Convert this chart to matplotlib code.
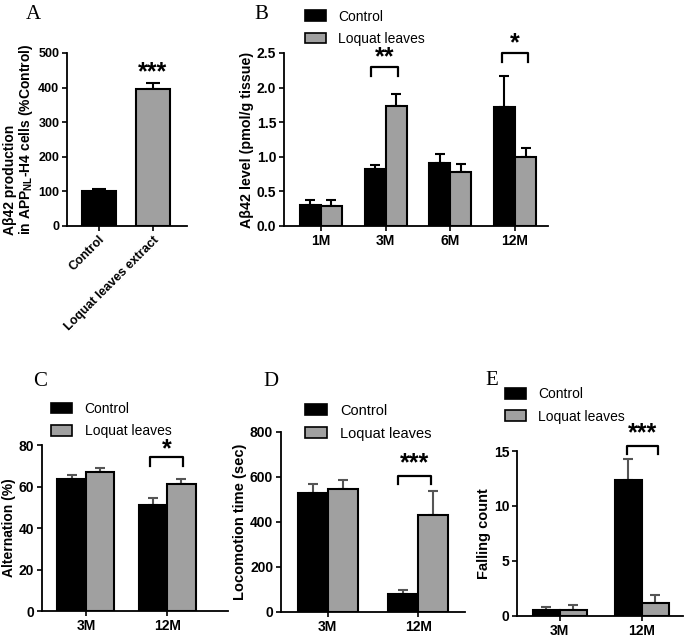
import numpy as np
import matplotlib
matplotlib.use('Agg')
import matplotlib.pyplot as plt
from matplotlib.patches import Patch

plt.rcParams['font.family'] = ['Liberation Sans', 'DejaVu Sans']
plt.rcParams['mathtext.fontset'] = 'custom'
plt.rcParams['mathtext.rm'] = 'Liberation Sans'
plt.rcParams['mathtext.bf'] = 'Liberation Sans:bold'

GRAY = '#a0a0a0'

# ---- data ----
a_labels = ['Control', 'Loquat leaves extract']
a_vals = [100, 397]
a_err = [8, 15]

b_ages = ['1M', '3M', '6M', '12M']
b_ctrl = [0.30, 0.82, 0.91, 1.72]
b_ctrl_err = [0.08, 0.06, 0.13, 0.45]
b_loq = [0.29, 1.74, 0.78, 1.00]
b_loq_err = [0.08, 0.17, 0.11, 0.13]

ages = ['3M', '12M']
c_ctrl = [63.5, 51.0]
c_ctrl_err = [2.0, 3.5]
c_loq = [67.0, 61.0]
c_loq_err = [2.0, 2.5]

d_ctrl = [530, 80]
d_ctrl_err = [40, 17]
d_loq = [548, 430]
d_loq_err = [37, 108]

e_ctrl = [0.55, 12.4]
e_ctrl_err = [0.3, 1.9]
e_loq = [0.55, 1.2]
e_loq_err = [0.45, 0.7]


def style(ax, fs=10):
   for s in ['top', 'right']:
      ax.spines[s].set_visible(False)
   for s in ['left', 'bottom']:
      ax.spines[s].set_linewidth(1.3)
   ax.tick_params(width=1.2, length=3.5, labelsize=fs, pad=2)
   for t in ax.get_xticklabels() + ax.get_yticklabels():
      t.set_fontweight('bold')


def grouped(ax, cats, ctrl, cerr, loq, lerr, w, ecol='k'):
   x = np.arange(len(cats))
   ax.bar(x - w/2, ctrl, w, color='k', edgecolor='k', lw=1.5, zorder=3)
   ax.bar(x + w/2, loq, w, color=GRAY, edgecolor='k', lw=1.5, zorder=3)
   ax.errorbar(x - w/2, ctrl, yerr=[np.zeros(len(x)), cerr], fmt='none',
               ecolor=ecol, elinewidth=1.5, capsize=3.5, capthick=1.5, zorder=2)
   ax.errorbar(x + w/2, loq, yerr=[np.zeros(len(x)), lerr], fmt='none',
               ecolor=ecol, elinewidth=1.5, capsize=3.5, capthick=1.5, zorder=2)
   ax.set_xticks(x)
   ax.set_xticklabels(cats)


def bracket(ax, x0, x1, ytop, ylow, text, ty, fs=18):
   ax.plot([x0, x0, x1, x1], [ylow, ytop, ytop, ylow], color='k', lw=1.6,
           clip_on=False, zorder=4)
   ax.text((x0 + x1)/2, ty, text, ha='center', va='center', fontsize=fs,
           fontweight='bold', clip_on=False)


def legend(fig, x, y, fs=10):
   h = [Patch(facecolor='k', edgecolor='k', lw=1.2),
        Patch(facecolor=GRAY, edgecolor='k', lw=1.2)]
   fig.legend(h, ['Control', 'Loquat leaves'], loc='upper left',
              bbox_to_anchor=(x, y), frameon=False, fontsize=fs,
              handlelength=1.5, handleheight=0.8, labelspacing=0.6,
              handletextpad=0.9, borderaxespad=0, borderpad=0)


fig = plt.figure(figsize=(6.85, 6.38), dpi=100)

# ---- A ----
ax = fig.add_axes([0.0978, 0.6458, 0.1752, 0.2712])
xa = np.arange(2)
ax.bar(xa, a_vals, 0.63, color=['k', GRAY], edgecolor='k', lw=1.5, zorder=3)
ax.errorbar(xa, a_vals, yerr=[[0, 0], a_err], fmt='none', ecolor='k',
            elinewidth=1.5, capsize=5, capthick=1.5, zorder=2)
ax.set_xlim(-0.59, 1.63)
ax.set_ylim(0, 500)
ax.set_yticks([0, 100, 200, 300, 400, 500])
ax.set_xticks(xa)
ax.set_xticklabels(a_labels, rotation=45, ha='right', rotation_mode='anchor')
ax.set_ylabel('A\u03b242 production\nin APP$_{\\mathbf{NL}}$-H4 cells (%Control)',
              fontsize=10, fontweight='bold', labelpad=2, linespacing=1.05,
              multialignment='left')
style(ax, fs=9)
ax.text(1, 445, '***', ha='center', va='center', fontsize=18, fontweight='bold')

# ---- B ----
ax = fig.add_axes([0.4146, 0.6458, 0.3854, 0.2712])
wb = 0.325
grouped(ax, b_ages, b_ctrl, b_ctrl_err, b_loq, b_loq_err, wb)
ax.set_xlim(-0.57, 3.51)
ax.set_ylim(0, 2.5)
ax.set_yticks(np.arange(0, 2.51, 0.5))
ax.set_yticklabels(['%.1f' % v for v in np.arange(0, 2.51, 0.5)])
ax.set_ylabel('A\u03b242 level (pmol/g tissue)', fontsize=10.3, fontweight='bold',
              labelpad=2)
style(ax)
bracket(ax, 1 - 0.23, 1 + 0.19, 2.30, 2.16, '**', 2.44)
bracket(ax, 3 - 0.2, 3 + 0.2, 2.50, 2.37, '*', 2.64)
legend(fig, 0.445, 0.985)

# ---- C ----
ax = fig.add_axes([0.0613, 0.0423, 0.2717, 0.2602])
wc = 0.35
grouped(ax, ages, c_ctrl, c_ctrl_err, c_loq, c_loq_err, wc, ecol='#555555')
ax.set_xlim(-0.54, 1.75)
ax.set_ylim(0, 80)
ax.set_yticks([0, 20, 40, 60, 80])
ax.set_ylabel('Alternation (%)', fontsize=10, fontweight='bold', labelpad=2)
style(ax)
bracket(ax, 1 - 0.21, 1 + 0.2, 74, 70, '*', 78)
legend(fig, 0.075, 0.37)

# ---- D ----
ax = fig.add_axes([0.410, 0.0408, 0.269, 0.2821])
wd = 0.33
grouped(ax, ages, d_ctrl, d_ctrl_err, d_loq, d_loq_err, wd, ecol='#555555')
ax.set_xlim(-0.52, 1.52)
ax.set_ylim(0, 800)
ax.set_yticks([0, 200, 400, 600, 800])
ax.set_ylabel('Locomotion time (sec)', fontsize=10.5, fontweight='bold', labelpad=2)
style(ax)
bracket(ax, 1 - 0.22, 1 + 0.14, 604, 569, '***', 662)
legend(fig, 0.445, 0.367, fs=10.5)

# ---- E ----
ax = fig.add_axes([0.7547, 0.0345, 0.2423, 0.2586])
we = 0.33
grouped(ax, ages, e_ctrl, e_ctrl_err, e_loq, e_loq_err, we, ecol='#555555')
ax.set_xlim(-0.52, 1.5)
ax.set_ylim(0, 15)
ax.set_yticks([0, 5, 10, 15])
ax.set_ylabel('Falling count', fontsize=10.5, fontweight='bold', labelpad=2)
style(ax)
bracket(ax, 1 - 0.18, 1 + 0.2, 15.45, 14.7, '***', 16.6)
legend(fig, 0.737, 0.393)

# panel letters
for lab, x, y in [('A', 0.037, 0.992), ('B', 0.372, 0.992), ('C', 0.048, 0.417),
                  ('D', 0.384, 0.417), ('E', 0.709, 0.419)]:
   fig.text(x, y, lab, fontsize=15, family='Liberation Serif', va='top')

fig.savefig('out.png', dpi=100)
